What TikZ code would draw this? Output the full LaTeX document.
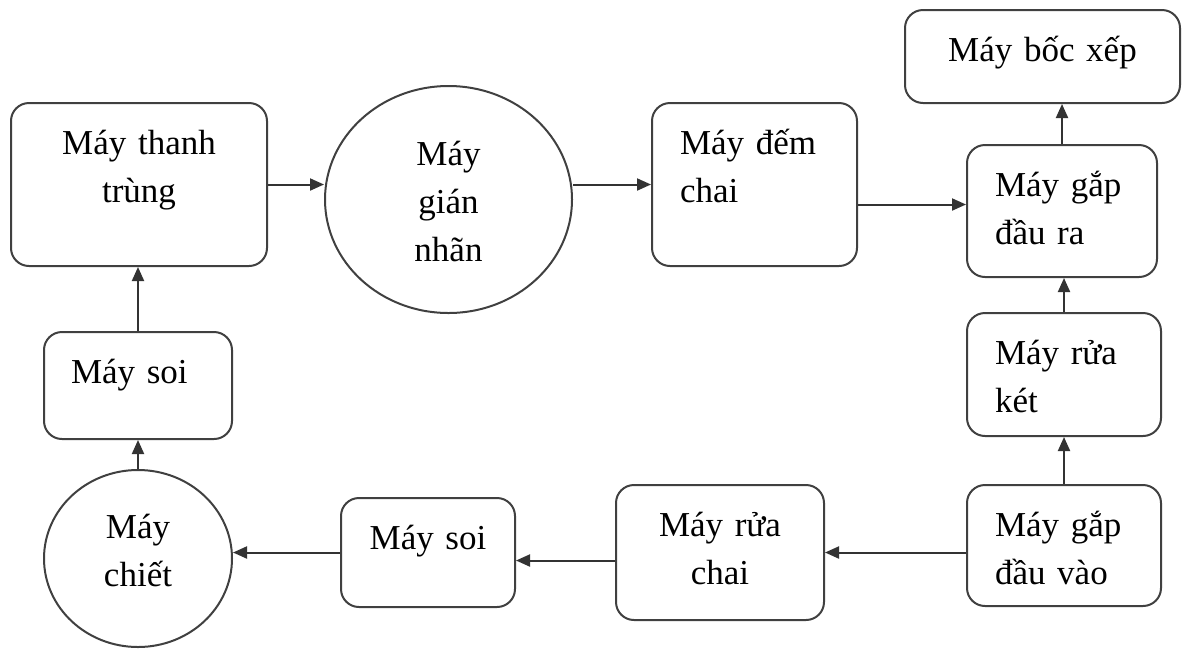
\documentclass[tikz,border=0pt]{standalone}
\usepackage{fontspec}
\setmainfont{Liberation Serif}
\usetikzlibrary{arrows.meta,shapes.geometric}

\begin{document}
\begin{tikzpicture}[
    x=1pt, y=-1pt,
    font=\fontsize{35}{48}\selectfont,
    box_style/.style={draw=black!75, line width=2pt, rounded corners=18pt, inner sep=0pt, text height=51pt, align=center},
    lbox_style/.style={box_style, align=left, inner xsep=28pt},
    oval_style/.style={draw=black!75, line width=2pt, ellipse, inner sep=0pt, text width=100pt, text height=30pt, align=center},
    edge_style/.style={draw=black!80, line width=2pt, -{Triangle[length=14pt,width=12pt]}}
]
\useasboundingbox (0,0) rectangle (1182,649);

% Top row
\node[box_style, text width=256pt, text depth=112pt] (thanhtrung) at (139,184.5) {Máy thanh\\trùng};
\node[oval_style, minimum width=247pt, minimum height=227pt, text depth=99pt] (giannhan) at (448.5,199.5) {Máy\\gián\\nhãn};
\node[lbox_style, text width=149pt, text depth=112pt] (demchai) at (754.5,184.5) {Máy đếm\\chai};
\node[box_style, text width=275pt, text depth=42pt] (bocxep) at (1042.5,56.5) {Máy bốc xếp};

% Right column
\node[lbox_style, text width=134pt, text depth=81pt] (gapra) at (1062,211) {Máy gắp\\đầu ra};
\node[lbox_style, text width=138pt, text depth=72pt] (raket) at (1064,374.5) {Máy rửa\\két};
\node[lbox_style, text width=138pt, text depth=70pt] (gapvao) at (1064,545.5) {Máy gắp\\đầu vào};

% Bottom row
\node[box_style, text width=208pt, text depth=84pt] (ruachai) at (720,552.5) {Máy rửa\\chai};
\node[box_style, text width=174pt, text depth=58pt] (soi2) at (428,552.5) {Máy soi};
\node[oval_style, minimum width=188pt, minimum height=177pt, text depth=71pt] (chiet) at (138,558.5) {Máy\\chiết};

% Left column
\node[lbox_style, inner xsep=27pt, text width=134pt, text depth=56pt] (soi1) at (138,385.5) {Máy soi};

% Edges along the top
\draw[edge_style] (thanhtrung.east) -- (thanhtrung.east -| giannhan.west);
\draw[edge_style] (demchai.west -| giannhan.east) -- (demchai.west);
\draw[edge_style] ([yshift=-20pt]demchai.east) -- ([yshift=-20pt]demchai.east -| gapra.west);
\draw[edge_style] (gapra.north) -- (gapra.north |- bocxep.south);

% Edges up the right side
\draw[edge_style] (raket.north) -- (raket.north |- gapra.south);
\draw[edge_style] (gapvao.north) -- (gapvao.north |- raket.south);

% Edges along the bottom
\draw[edge_style] (gapvao.west |- ruachai.east) -- (ruachai.east);
\draw[edge_style] ([yshift=-8pt]ruachai.west) -- ([yshift=-8pt]ruachai.west -| soi2.east);
\draw[edge_style] (soi2.west) -- (soi2.west -| chiet.east);

% Edges up the left side
\draw[edge_style] (chiet.north) -- (soi1.south);
\draw[edge_style] (soi1.north) -- (soi1.north |- thanhtrung.south);

\end{tikzpicture}
\end{document}
